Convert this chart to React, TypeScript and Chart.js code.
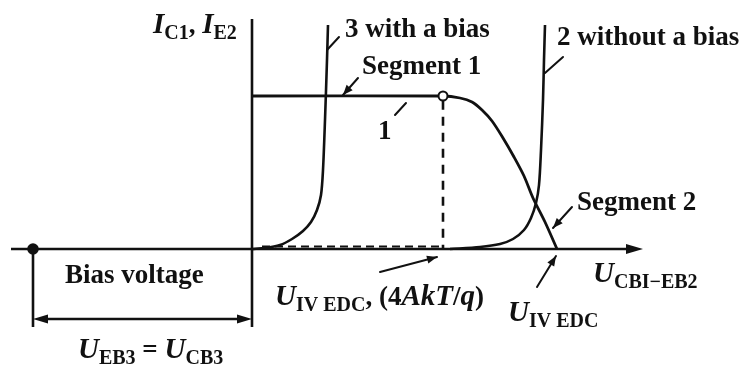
import { useEffect, useRef } from "react";
import { Chart, registerables } from "chart.js";

Chart.register(...registerables);

type Pt = { x: number; y: number };
const pts = (xs: number[], ys: number[]): Pt[] => xs.map((x, i) => ({ x, y: ys[i] }));

// Segment 1 (saturation plateau) followed by the roll-off of curve 1
const curve1X = [0, 4.775, 5.2, 5.5, 5.75, 6.0, 6.275, 6.55, 6.8, 7.025, 7.325, 7.625];
const curve1Y = [3.825, 3.825, 3.775, 3.675, 3.475, 3.2, 2.775, 2.3, 1.825, 1.275, 0.675, 0];

// Curve 3: forward characteristic with a bias applied
const curve3X = [0, 0.325, 0.7, 1.0, 1.275, 1.475, 1.625, 1.725, 1.775, 1.825, 1.875, 1.9];
const curve3Y = [0, 0.025, 0.1, 0.25, 0.45, 0.675, 0.975, 1.35, 1.975, 3.225, 4.725, 5.6];

// Curve 2: forward characteristic without a bias
const curve2X = [4.95, 5.7, 6.2, 6.525, 6.8, 6.975, 7.1, 7.175, 7.225, 7.275, 7.3, 7.325];
const curve2Y = [0, 0.05, 0.125, 0.25, 0.475, 0.775, 1.15, 1.6, 2.475, 3.725, 4.725, 5.6];

// Characteristic voltages / currents
const kneeVoltage = 4.775; // U_IV EDC, (4AkT/q)
const plateauCurrent = 3.825;
const biasVoltage = -5.475; // U_EB3 = U_CB3

// Axis extents
const xAxisRange = [-6.025, 9.775];
const yAxisRange = [-1.95, 5.75];
const bracketLevel = -1.75;

// Leader lines: [x1, y1, x2, y2, arrow at end]
const leaders: [number, number, number, number, boolean][] = [
  [1.875, 4.975, 2.175, 5.3, false],
  [2.65, 4.275, 2.275, 3.85, true],
  [3.575, 3.35, 3.85, 3.65, false],
  [7.325, 4.4, 7.775, 4.8, false],
  [8.0, 1.05, 7.525, 0.525, true],
  [3.2, -0.575, 4.625, -0.2, true],
  [7.125, -0.95, 7.6, -0.175, true],
];

// Text runs: n = upright, i = italic, s = subscript
type Run = [string, "n" | "i" | "s"];
const labels: { x: number; y: number; runs: Run[] }[] = [
  { x: -2.475, y: 5.4, runs: [["I", "i"], ["C1", "s"], [", ", "n"], ["I", "i"], ["E2", "s"]] },
  { x: 2.325, y: 5.3, runs: [["3 with a bias", "n"]] },
  { x: 2.75, y: 4.375, runs: [["Segment 1", "n"]] },
  { x: 7.625, y: 5.1, runs: [["2 without a bias", "n"]] },
  { x: 3.15, y: 2.75, runs: [["1", "n"]] },
  { x: 8.125, y: 0.975, runs: [["Segment 2", "n"]] },
  { x: -4.675, y: -0.85, runs: [["Bias voltage", "n"]] },
  {
    x: 0.575,
    y: -1.4,
    runs: [["U", "i"], ["IV EDC", "s"], [", (4", "n"], ["AkT", "i"], ["/", "n"], ["q", "i"], [")", "n"]],
  },
  { x: 6.4, y: -1.8, runs: [["U", "i"], ["IV EDC", "s"]] },
  { x: 8.525, y: -0.825, runs: [["U", "i"], ["CBI\u2212EB2", "s"]] },
  { x: -4.35, y: -2.725, runs: [["U", "i"], ["EB3", "s"], [" = ", "n"], ["U", "i"], ["CB3", "s"]] },
];

const INK = "#111";
const FAMILY = "'Liberation Serif', 'Times New Roman', serif";
const runStyle = {
  n: { font: `bold 27px ${FAMILY}`, dy: 0 },
  i: { font: `italic bold 29px ${FAMILY}`, dy: 0 },
  s: { font: `bold 20px ${FAMILY}`, dy: 6 },
};

function arrowHead(
  ctx: CanvasRenderingContext2D,
  x1: number,
  y1: number,
  x2: number,
  y2: number,
  len: number,
  half: number
) {
  const a = Math.atan2(y2 - y1, x2 - x1);
  const bx = x2 - len * Math.cos(a);
  const by = y2 - len * Math.sin(a);
  ctx.beginPath();
  ctx.moveTo(x2, y2);
  ctx.lineTo(bx + half * Math.sin(a), by - half * Math.cos(a));
  ctx.lineTo(bx - half * Math.sin(a), by + half * Math.cos(a));
  ctx.closePath();
  ctx.fill();
}

const annotations = {
  id: "annotations",
  afterDatasetsDraw(chart: Chart) {
    const ctx = chart.ctx;
    const sx = chart.scales.x;
    const sy = chart.scales.y;
    const X = (v: number) => sx.getPixelForValue(v);
    const Y = (v: number) => sy.getPixelForValue(v);
    ctx.save();
    ctx.fillStyle = INK;
    ctx.strokeStyle = INK;
    ctx.lineCap = "round";

    // axis arrow
    arrowHead(ctx, X(xAxisRange[0]), Y(0), X(xAxisRange[1]), Y(0), 17, 5);
    // bias bracket double arrow
    arrowHead(ctx, X(0), Y(bracketLevel), X(biasVoltage), Y(bracketLevel), 15, 4.5);
    arrowHead(ctx, X(biasVoltage), Y(bracketLevel), X(0), Y(bracketLevel), 15, 4.5);

    // leader lines
    ctx.lineWidth = 2;
    for (const [x1, y1, x2, y2, arrow] of leaders) {
      ctx.beginPath();
      ctx.moveTo(X(x1), Y(y1));
      ctx.lineTo(X(x2), Y(y2));
      ctx.stroke();
      if (arrow) arrowHead(ctx, X(x1), Y(y1), X(x2), Y(y2), 10, 4);
    }

    // text
    ctx.textBaseline = "alphabetic";
    ctx.textAlign = "left";
    for (const lab of labels) {
      let cx = X(lab.x);
      const by = Y(lab.y);
      for (const [t, k] of lab.runs) {
        const st = runStyle[k];
        ctx.font = st.font;
        ctx.fillText(t, cx, by + st.dy);
        cx += ctx.measureText(t).width;
      }
    }
    ctx.restore();
  },
};

const line = (data: Pt[], extra: Record<string, unknown> = {}) => ({
  data,
  showLine: true,
  borderColor: INK,
  borderWidth: 2.6,
  pointRadius: 0,
  fill: false,
  tension: 0,
  clip: false,
  ...extra,
});

export default function App() {
  const ref = useRef<HTMLCanvasElement | null>(null);

  useEffect(() => {
    document.body.style.margin = "0";
    const canvas = ref.current;
    if (!canvas) return;
    const chart = new Chart(canvas, {
      type: "scatter",
      data: {
        datasets: [
          // knee marker (drawn on top)
          line([{ x: kneeVoltage, y: plateauCurrent }], {
            showLine: false,
            pointRadius: 4.5,
            pointBackgroundColor: "#fff",
            pointBorderColor: INK,
            pointBorderWidth: 2,
          }),
          line([{ x: biasVoltage, y: 0 }], {
            showLine: false,
            pointRadius: 4.5,
            pointBackgroundColor: INK,
            pointBorderColor: INK,
          }),
          line(pts(curve1X, curve1Y), { tension: 0.3, borderWidth: 2.8 }),
          line(pts(curve3X, curve3Y), { tension: 0.3 }),
          line(pts(curve2X, curve2Y), { tension: 0.3 }),
          line(
            [
              { x: kneeVoltage, y: plateauCurrent - 0.12 },
              { x: kneeVoltage, y: 0 },
            ],
            { borderDash: [9, 7], borderWidth: 2.6 }
          ),
          line(
            [
              { x: 0.25, y: 0.06 },
              { x: kneeVoltage, y: 0.06 },
            ],
            { borderDash: [8, 5], borderWidth: 2 }
          ),
          line([
            { x: xAxisRange[0], y: 0 },
            { x: xAxisRange[1] - 0.2, y: 0 },
          ]),
          line([
            { x: 0, y: yAxisRange[0] },
            { x: 0, y: yAxisRange[1] },
          ]),
          line([
            { x: biasVoltage, y: 0 },
            { x: biasVoltage, y: yAxisRange[0] },
          ]),
          line(
            [
              { x: biasVoltage + 0.2, y: bracketLevel },
              { x: -0.2, y: bracketLevel },
            ],
            { borderWidth: 2.4 }
          ),
        ],
      },
      options: {
        responsive: false,
        animation: false,
        devicePixelRatio: 1,
        events: [],
        layout: { padding: 0, autoPadding: false },
        plugins: { legend: { display: false }, tooltip: { enabled: false } },
        scales: {
          x: { type: "linear", min: -6.3, max: 12.175, display: false },
          y: { type: "linear", min: -3.05, max: 6.225, display: false },
        },
      },
      plugins: [annotations],
    });
    return () => chart.destroy();
  }, []);

  return (
    <div style={{ width: 739, height: 371, background: "#fff" }}>
      <canvas ref={ref} width={739} height={371} style={{ display: "block" }} />
    </div>
  );
}
